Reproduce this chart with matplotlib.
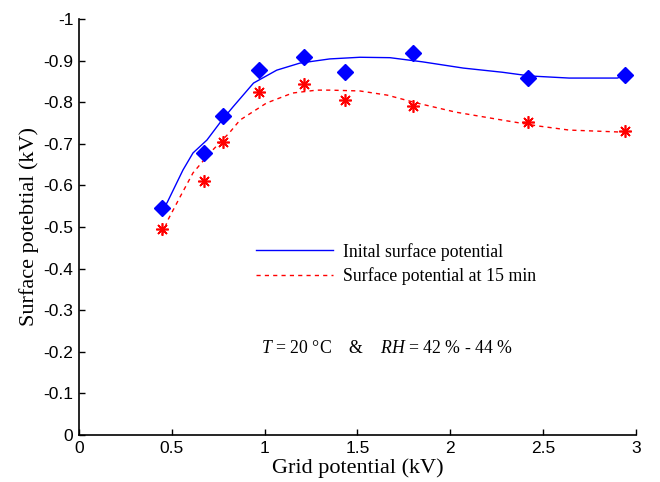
import numpy as np
import matplotlib
matplotlib.use('Agg')
import matplotlib.pyplot as plt

plt.rcParams['axes.unicode_minus'] = False
plt.rcParams['mathtext.fontset'] = 'custom'
plt.rcParams['mathtext.rm'] = 'Liberation Serif'
plt.rcParams['mathtext.it'] = 'Liberation Serif:italic'

# measured points
grid_kv = [0.447, 0.673, 0.776, 0.969, 1.21, 1.432, 1.80, 2.42, 2.94]
surf_init = [-0.546, -0.678, -0.767, -0.877, -0.908, -0.873, -0.918, -0.858, -0.865]
surf_15min = [-0.495, -0.611, -0.704, -0.825, -0.844, -0.805, -0.791, -0.752, -0.731]

# fitted curves
fit_init_x = [0.447, 0.474, 0.56, 0.614, 0.689, 0.77, 0.83, 0.94, 1.065, 1.19, 1.35,
              1.513, 1.675, 1.85, 2.07, 2.28, 2.43, 2.64, 2.90, 2.93]
fit_init_y = [-0.545, -0.558, -0.637, -0.678, -0.709, -0.757, -0.789, -0.846, -0.877, -0.894, -0.904,
              -0.908, -0.907, -0.897, -0.882, -0.872, -0.863, -0.858, -0.858, -0.863]
fit_15_x = [0.447, 0.479, 0.544, 0.614, 0.705, 0.813, 0.867, 1.01, 1.15, 1.28, 1.35,
            1.513, 1.66, 1.82, 2.03, 2.28, 2.47, 2.64, 2.93]
fit_15_y = [-0.481, -0.517, -0.572, -0.63, -0.678, -0.728, -0.757, -0.798, -0.822, -0.829, -0.829,
            -0.827, -0.817, -0.798, -0.776, -0.757, -0.743, -0.733, -0.728]

x_ticks = [0, 0.5, 1, 1.5, 2, 2.5, 3]
x_tick_labels = ['0', '0.5', '1', '1.5', '2', '2.5', '3']
y_ticks = [0, -0.1, -0.2, -0.3, -0.4, -0.5, -0.6, -0.7, -0.8, -0.9, -1]
y_tick_labels = ['0', '-0.1', '-0.2', '-0.3', '-0.4', '-0.5', '-0.6', '-0.7', '-0.8', '-0.9', '-1']

fig = plt.figure(figsize=(6.6, 4.82), dpi=100)
ax = fig.add_axes([0.1197, 0.0975, 0.8439, 0.8631])

l1, = ax.plot(fit_init_x, fit_init_y, '-', color='#0000ff', lw=1.0,
              label='Inital surface potential')
l2, = ax.plot(fit_15_x, fit_15_y, '--', color='#ff0000', lw=1.0, dashes=(3, 3),
              label='Surface potential at 15 min')
ax.plot(grid_kv, surf_init, 'D', color='#0000ff', ms=8, mec='#0000ff')
ax.plot(grid_kv, surf_15min, marker=(8, 2, 0), ls='none', color='#ff0000', ms=9, mew=1.2)

ax.set_xlim(0, 3)
ax.set_ylim(0, -1)
ax.set_xticks(x_ticks)
ax.set_xticklabels(x_tick_labels, family='Liberation Sans', fontsize=12.5)
ax.set_yticks(y_ticks)
ax.set_yticklabels(y_tick_labels, family='Liberation Sans', fontsize=12.5)
ax.tick_params(direction='in', length=4, width=1, pad=4)
for s in ['top', 'right']:
    ax.spines[s].set_visible(False)
ax.spines['left'].set_linewidth(1.2)
ax.spines['bottom'].set_linewidth(1.2)

ax.set_xlabel('Grid potential (kV)', family='Liberation Serif', fontsize=16, labelpad=2)
ax.set_ylabel('Surface potebtial (kV)', family='Liberation Serif', fontsize=16, labelpad=3)

ax.legend(handles=[l1, l2], loc='center left', bbox_to_anchor=(0.289, 0.411),
          frameon=False, handlelength=4.33, handletextpad=0.56, labelspacing=0.38,
          prop={'family': 'Liberation Serif', 'size': 12.8})

ax.text(0.98, -0.209, r'$T$ = 20 °C    &    $RH$ = 42 % - 44 %',
        family='Liberation Serif', fontsize=12.8, va='center', ha='left')

fig.savefig('out.png', dpi=100)
